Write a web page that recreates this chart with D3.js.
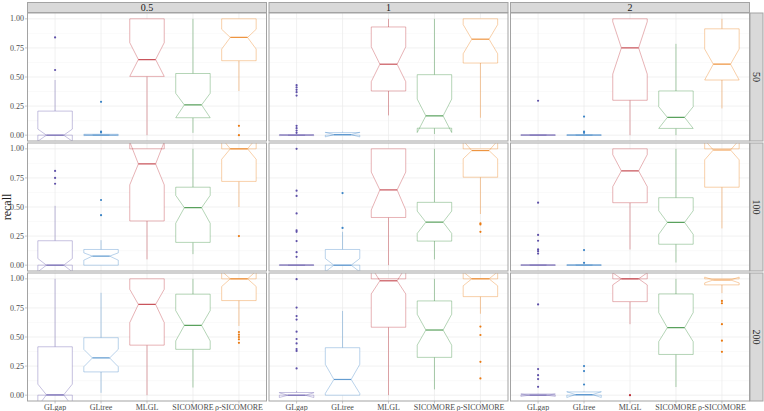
<!DOCTYPE html>
<html>
<head>
<meta charset="utf-8">
<script src="https://cdn.jsdelivr.net/npm/d3@7"></script>
<style>
  body { margin: 0; background: #fff; }
  text { font-family: "Liberation Serif", "DejaVu Serif", serif; }
</style>
</head>
<body>
<div id="chart"></div>
<script>
// data: one array of box stats per panel
// each box: [lower whisker, q1, notch low, median, notch high, q3, upper whisker]
const methods = ['GLgap', 'GLtree', 'MLGL', 'SICOMORE', 'ρ-SICOMORE'];
const colLabels = ['0.5', '1', '2'];
const rowLabels = ['50', '100', '200'];
const yTicks = [0, 0.25, 0.5, 0.75, 1];

const box50_05 = [
  [0, 0, -0.052, 0, 0.052, 0.207, 0.474],
  [0, 0, -0.004, 0, 0.004, 0.008, 0.02],
  [0, 0.505, 0.505, 0.65, 0.795, 1.0, 1.0],
  [0.02, 0.15, 0.15, 0.26, 0.36, 0.53, 1.0],
  [0.38, 0.64, 0.74, 0.84, 0.91, 1.0, 1.0]
];
const out50_05 = [[0.84, 0.56], [0.287, 0.03, 0.025], [], [], [0.08, 0.0]];

const box50_1 = [
  [0, 0, -0.004, 0, 0.004, 0.005, 0.01],
  [0, 0, -0.015, 0.005, 0.025, 0.022, 0.03],
  [0.17, 0.38, 0.46, 0.61, 0.76, 0.93, 1.0],
  [0.01, 0.06, 0.023, 0.166, 0.31, 0.52, 1.0],
  [0.15, 0.62, 0.70, 0.825, 0.95, 1.0, 1.0]
];
const out50_1 = [[0.43, 0.41, 0.39, 0.37, 0.34, 0.08, 0.06, 0.04, 0.02], [], [], [], []];

const box50_2 = [
  [0, 0, -0.003, 0, 0.003, 0.004, 0.005],
  [0, 0, -0.003, 0, 0.003, 0.004, 0.01],
  [0, 0.30, 0.525, 0.75, 0.975, 1.0, 1.0],
  [0, 0.058, 0.058, 0.153, 0.245, 0.38, 0.785],
  [0.23, 0.474, 0.474, 0.61, 0.74, 0.914, 1.0]
];
const out50_2 = [[0.296], [0.16, 0.03, 0.02], [], [], []];

const box100_05 = [
  [0, 0, -0.057, 0, 0.057, 0.21, 0.51],
  [0, 0, 0.043, 0.078, 0.106, 0.135, 0.215],
  [0.05, 0.38, 0.69, 0.87, 1.06, 1.0, 1.0],
  [0.095, 0.196, 0.36, 0.494, 0.60, 0.67, 1.0],
  [0.50, 0.72, 0.91, 1.0, 1.09, 1.0, 1.0]
];
const out100_05 = [[0.81, 0.75, 0.70], [0.56, 0.43], [], [], [0.25]];

const box100_1 = [
  [0, 0, -0.003, 0, 0.003, 0.004, 0.005],
  [0, 0, -0.057, 0, 0.057, 0.135, 0.287],
  [0, 0.41, 0.474, 0.647, 0.80, 1.0, 1.0],
  [0.05, 0.207, 0.273, 0.37, 0.465, 0.54, 1.0],
  [0.44, 0.756, 0.914, 0.985, 1.07, 1.0, 1.0]
];
const out100_1 = [[1.0, 0.64, 0.595, 0.445, 0.30, 0.287, 0.207, 0.112, 0.072], [0.62, 0.32], [], [], [0.36, 0.35, 0.287]];

const box100_2 = [
  [0, 0, -0.003, 0, 0.003, 0.004, 0.005],
  [0, 0, -0.003, 0, 0.003, 0.004, 0.005],
  [0.135, 0.537, 0.675, 0.81, 0.95, 1.0, 1.0],
  [0.023, 0.18, 0.265, 0.368, 0.468, 0.58, 1.0],
  [0.316, 0.67, 0.905, 0.99, 1.075, 1.0, 1.0]
];
const out100_2 = [[0.537, 0.26, 0.21, 0.135, 0.12, 0.10], [0.13, 0.02], [], [], []];

const box200_05 = [
  [0, 0, -0.095, 0.003, 0.095, 0.416, 1.0],
  [0.02, 0.20, 0.244, 0.32, 0.394, 0.494, 0.88],
  [0, 0.43, 0.623, 0.78, 0.91, 1.0, 1.0],
  [0.066, 0.394, 0.466, 0.60, 0.727, 0.868, 1.0],
  [0.595, 0.813, 0.934, 1.0, 1.066, 1.0, 1.0]
];
const out200_05 = [[], [], [], [], [0.543, 0.52, 0.50, 0.48, 0.45]];

const box200_1 = [
  [0, 0, -0.02, 0, 0.02, 0.023, 0.037],
  [0, 0, 0.015, 0.135, 0.265, 0.408, 0.724],
  [0, 0.584, 0.87, 0.983, 1.1, 1.0, 1.0],
  [0.05, 0.325, 0.43, 0.56, 0.695, 0.81, 1.0],
  [0.70, 0.847, 0.94, 1.0, 1.06, 1.0, 1.0]
];
const out200_1 = [[0.997, 0.753, 0.68, 0.65, 0.546, 0.483, 0.445, 0.397, 0.38, 0.23], [], [], [], [0.59, 0.517, 0.287, 0.144]];

const box200_2 = [
  [0, 0, -0.01, 0, 0.01, 0.01, 0.012],
  [0, 0, -0.02, 0.005, 0.03, 0.028, 0.03],
  [0.61, 0.804, 0.948, 1.0, 1.052, 1.0, 1.0],
  [0.07, 0.35, 0.46, 0.58, 0.71, 0.87, 1.0],
  [0.877, 0.948, 0.965, 0.99, 1.015, 1.0, 1.0]
];
const out200_2 = [[0.78, 0.224, 0.172, 0.138, 0.072], [0.25, 0.207, 0.092], [0.0], [], [0.81, 0.79, 0.61, 0.468, 0.373]];

const boxes = [
  [box50_05, box50_1, box50_2],
  [box100_05, box100_1, box100_2],
  [box200_05, box200_1, box200_2]
];
const outliers = [
  [out50_05, out50_1, out50_2],
  [out100_05, out100_1, out100_2],
  [out200_05, out200_1, out200_2]
];

const colors = ['#5e50a8', '#3d85c6', '#bb2a33', '#2f8a35', '#ea7a12'];

const createGraph = () => {
  const width = 764;
  const height = 411;
  const left = 27.5, top = 13, panelW = 239, panelH = 128, gapX = 2.5, gapY = 2;
  const stripH = 10, stripW = 13;

  const svg = d3.select('#chart').append('svg')
    .attr('width', width)
    .attr('height', height);

  const x = d3.scalePoint().domain(methods).range([0, panelW]).padding(0.6);
  const y = d3.scaleLinear().domain([-0.05, 1.05]).range([panelH, 0]);
  const bw = x.step() * 0.75;
  const ind = bw * 0.25;
  const minorTicks = [0.125, 0.375, 0.625, 0.875];

  rowLabels.forEach((rl, r) => {
    colLabels.forEach((cl, c) => {
      const px = left + c * (panelW + gapX);
      const py = top + r * (panelH + gapY);
      const g = svg.append('g').attr('transform', `translate(${px},${py})`);
      const clipId = `clip${r}${c}`;
      g.append('clipPath').attr('id', clipId)
        .append('rect').attr('width', panelW).attr('height', panelH);

      g.append('rect').attr('width', panelW).attr('height', panelH).attr('fill', '#fff');

      // grid
      g.selectAll('.minor').data(minorTicks).enter().append('line')
        .attr('x1', 0).attr('x2', panelW)
        .attr('y1', d => y(d)).attr('y2', d => y(d))
        .attr('stroke', '#f4f4f4').attr('stroke-width', 0.5);
      g.selectAll('.major').data(yTicks).enter().append('line')
        .attr('x1', 0).attr('x2', panelW)
        .attr('y1', d => y(d)).attr('y2', d => y(d))
        .attr('stroke', '#ebebeb').attr('stroke-width', 0.7);
      g.selectAll('.vgrid').data(methods).enter().append('line')
        .attr('x1', d => x(d)).attr('x2', d => x(d))
        .attr('y1', 0).attr('y2', panelH)
        .attr('stroke', '#ebebeb').attr('stroke-width', 0.7);

      const plot = g.append('g').attr('clip-path', `url(#${clipId})`);
      const stats = boxes[r][c];
      const outs = outliers[r][c];

      methods.forEach((m, i) => {
        const [lo, q1, nLo, med, nHi, q3, hi] = stats[i];
        const cx = x(m), x0 = cx - bw / 2, x1 = cx + bw / 2;
        const col = colors[i];

        // whiskers
        plot.append('line')
          .attr('x1', cx).attr('x2', cx).attr('y1', y(q3)).attr('y2', y(hi))
          .attr('stroke', col).attr('stroke-opacity', 0.5).attr('stroke-width', 0.8);
        plot.append('line')
          .attr('x1', cx).attr('x2', cx).attr('y1', y(q1)).attr('y2', y(lo))
          .attr('stroke', col).attr('stroke-opacity', 0.5).attr('stroke-width', 0.8);

        const pts = [
          [x0, q3], [x0, nHi], [x0 + ind, med], [x0, nLo], [x0, q1],
          [x1, q1], [x1, nLo], [x1 - ind, med], [x1, nHi], [x1, q3]
        ].map(p => [p[0], y(p[1])]);
        plot.append('path')
          .attr('d', d3.line()(pts) + 'Z')
          .attr('fill', '#fff')
          .attr('stroke', col).attr('stroke-opacity', 0.45).attr('stroke-width', 0.8);

        plot.append('line')
          .attr('x1', x0 + ind).attr('x2', x1 - ind).attr('y1', y(med)).attr('y2', y(med))
          .attr('stroke', col).attr('stroke-opacity', 0.8).attr('stroke-width', 1.2);

        plot.selectAll(null).data(outs[i]).enter().append('circle')
          .attr('cx', cx).attr('cy', d => y(d)).attr('r', 1.1)
          .attr('fill', col);
      });

      g.append('rect').attr('width', panelW).attr('height', panelH)
        .attr('fill', 'none').attr('stroke', '#a3a3a3').attr('stroke-width', 1);

      // y axis on first column
      if (c === 0) {
        g.selectAll('.ytick').data(yTicks).enter().append('line')
          .attr('x1', -2.5).attr('x2', 0).attr('y1', d => y(d)).attr('y2', d => y(d))
          .attr('stroke', '#a3a3a3').attr('stroke-width', 0.6);
        g.selectAll('.ylab').data(yTicks).enter().append('text')
          .attr('x', -3.5).attr('y', d => y(d)).attr('dy', '0.33em')
          .attr('text-anchor', 'end').attr('font-size', 8).attr('fill', '#4d4d4d')
          .text(d => d3.format('.2f')(d));
      }
      // x axis on last row
      if (r === rowLabels.length - 1) {
        g.selectAll('.xtick').data(methods).enter().append('line')
          .attr('x1', d => x(d)).attr('x2', d => x(d)).attr('y1', panelH).attr('y2', panelH + 2.5)
          .attr('stroke', '#a3a3a3').attr('stroke-width', 0.6);
        g.selectAll('.xlab').data(methods).enter().append('text')
          .attr('x', d => x(d)).attr('y', panelH + 9)
          .attr('text-anchor', 'middle').attr('font-size', 8).attr('fill', '#4d4d4d')
          .text(d => d);
      }
      // top strips
      if (r === 0) {
        svg.append('rect').attr('x', px).attr('y', top - stripH - 0.5)
          .attr('width', panelW).attr('height', stripH)
          .attr('fill', '#d9d9d9').attr('stroke', '#a3a3a3').attr('stroke-width', 1);
        svg.append('text').attr('x', px + panelW / 2).attr('y', top - 2.5)
          .attr('text-anchor', 'middle').attr('font-size', 10).attr('fill', '#1a1a1a')
          .text(cl);
      }
      // right strips
      if (c === colLabels.length - 1) {
        const sx = px + panelW + 0.5;
        svg.append('rect').attr('x', sx).attr('y', py)
          .attr('width', stripW).attr('height', panelH)
          .attr('fill', '#d9d9d9').attr('stroke', '#a3a3a3').attr('stroke-width', 1);
        svg.append('text')
          .attr('transform', `translate(${sx + stripW / 2},${py + panelH / 2}) rotate(90)`)
          .attr('text-anchor', 'middle').attr('dy', '0.33em')
          .attr('font-size', 10).attr('fill', '#1a1a1a')
          .text(rl);
      }
    });
  });

  svg.append('text')
    .attr('transform', `translate(11,${top + (panelH * 3 + gapY * 2) / 2}) rotate(-90)`)
    .attr('text-anchor', 'middle').attr('font-size', 12).attr('fill', '#1a1a1a')
    .text('recall');
};

createGraph();
</script>
</body>
</html>
